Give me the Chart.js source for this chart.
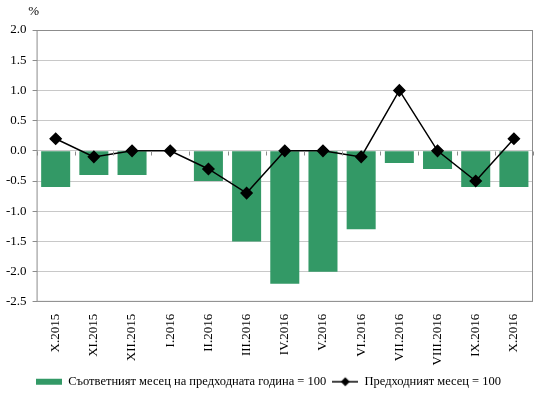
<!DOCTYPE html>
<html>
<head>
<meta charset="utf-8">
<script src="https://cdn.jsdelivr.net/npm/chart.js@4/dist/chart.umd.min.js"></script>
<style>
  html, body { margin: 0; padding: 0; background: #fff; }
  #wrap { width: 540px; height: 398px; }
</style>
</head>
<body>
<div id="wrap"><canvas id="myChart" width="540" height="398"></canvas></div>
<script>
const labels = ['X.2015', 'XI.2015', 'XII.2015', 'I.2016', 'II.2016', 'III.2016', 'IV.2016',
                'V.2016', 'VI.2016', 'VII.2016', 'VIII.2016', 'IX.2016', 'X.2016'];
const sameMonthPrevYear = [-0.6, -0.4, -0.4, 0.0, -0.5, -1.5, -2.2, -2.0, -1.3, -0.2, -0.3, -0.6, -0.6];
const prevMonth = [0.2, -0.1, 0.0, 0.0, -0.3, -0.7, 0.0, 0.0, -0.1, 1.0, 0.0, -0.5, 0.2];

const GREEN = 'rgb(51,153,102)';
const FONT = 'Liberation Serif';

// legend icons
function barIcon() {
  const c = document.createElement('canvas');
  c.width = 26; c.height = 8;
  const ctx = c.getContext('2d');
  ctx.fillStyle = GREEN;
  ctx.fillRect(0, 1, 26, 6);
  return c;
}
function lineIcon() {
  const c = document.createElement('canvas');
  c.width = 26; c.height = 12;
  const ctx = c.getContext('2d');
  ctx.strokeStyle = '#000';
  ctx.lineWidth = 1.5;
  ctx.beginPath(); ctx.moveTo(0, 6); ctx.lineTo(26, 6); ctx.stroke();
  ctx.fillStyle = '#000';
  ctx.beginPath();
  ctx.moveTo(13, 1.5); ctx.lineTo(17.5, 6); ctx.lineTo(13, 10.5); ctx.lineTo(8.5, 6); ctx.closePath();
  ctx.fill();
  return c;
}

const frame = {
  id: 'frame',
  afterDraw(chart) {
    const { ctx, chartArea: a, scales } = chart;
    ctx.save();
    ctx.strokeStyle = '#8c8c8c';
    ctx.lineWidth = 1;
    ctx.strokeRect(a.left + 0.5, a.top + 0.5, a.right - a.left - 1, a.bottom - a.top - 1);
    // tick marks along the zero line
    const y0 = Math.round(scales.y.getPixelForValue(0)) + 0.5;
    const n = labels.length;
    ctx.beginPath();
    for (let i = 0; i <= n; i++) {
      const x = Math.round(a.left + i * (a.right - a.left) / n) + 0.5;
      ctx.moveTo(x, y0); ctx.lineTo(x, y0 + 4);
    }
    ctx.stroke();
    ctx.fillStyle = '#000';
    ctx.font = '13px "' + FONT + '"';
    ctx.textAlign = 'center';
    ctx.textBaseline = 'alphabetic';
    ctx.fillText('%', a.left - 3, a.top - 15);
    ctx.restore();
  }
};

const data = {
  labels: labels,
  datasets: [
    {
      type: 'line',
      label: 'Предходният месец = 100',
      data: prevMonth,
      borderColor: '#000',
      backgroundColor: '#000',
      borderWidth: 1.5,
      pointStyle: 'rectRot',
      pointRadius: 5.5,
      pointHoverRadius: 5.5,
      tension: 0,
      order: 0
    },
    {
      type: 'bar',
      label: 'Съответният месец на предходната година = 100',
      data: sameMonthPrevYear,
      backgroundColor: GREEN,
      barPercentage: 0.76,
      categoryPercentage: 1.0,
      order: 1
    }
  ]
};

const config = {
  data: data,
  options: {
    responsive: false,
    animation: false,
    layout: { padding: { top: 30, right: 3, left: 0, bottom: 0 } },
    plugins: {
      tooltip: { enabled: false },
      legend: {
        position: 'bottom',
        labels: {
          color: '#000',
          font: { family: FONT, size: 12.5 },
          usePointStyle: true,
          pointStyleWidth: 26,
          boxHeight: 12,
          padding: 6,
          generateLabels(chart) {
            return [
              { text: chart.data.datasets[1].label, pointStyle: barIcon(), datasetIndex: 1, fillStyle: GREEN, strokeStyle: GREEN, lineWidth: 0 },
              { text: chart.data.datasets[0].label, pointStyle: lineIcon(), datasetIndex: 0, fillStyle: '#000', strokeStyle: '#000', lineWidth: 0 }
            ];
          }
        }
      }
    },
    scales: {
      x: {
        offset: true,
        grid: { display: false },
        border: { display: false },
        ticks: {
          color: '#000',
          font: { family: FONT, size: 13 },
          minRotation: 90,
          maxRotation: 90,
          autoSkip: false,
          padding: 4
        }
      },
      y: {
        min: -2.5,
        max: 2.0,
        grid: { color: '#c8c8c8', drawTicks: true, tickLength: 4, tickColor: '#8c8c8c' },
        border: { display: false },
        ticks: {
          stepSize: 0.5,
          color: '#000',
          font: { family: FONT, size: 13 },
          padding: 6,
          callback: v => v.toFixed(1)
        }
      }
    }
  },
  plugins: [frame]
};

const myChart = new Chart(document.getElementById('myChart'), config);
</script>
</body>
</html>
